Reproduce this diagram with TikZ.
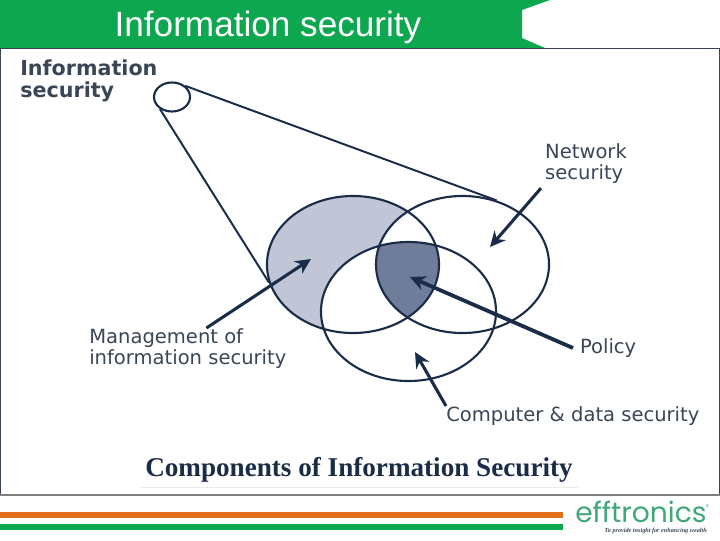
\documentclass[tikz,border=0pt]{standalone}
\usepackage{fontspec}
\setmainfont{DejaVu Sans}
\newfontfamily\titlefont{Liberation Sans}
\newfontfamily\capfont{Liberation Serif}
\newfontfamily\logofont{Poppins}
\usetikzlibrary{arrows.meta,shapes.geometric}
\definecolor{bandgreen}{HTML}{0CA74F}
\definecolor{barorange}{HTML}{E0701A}
\definecolor{logogreen}{HTML}{3FA878}
\definecolor{inkblue}{HTML}{1A2C48}
\definecolor{labelgrey}{HTML}{3A4656}
\definecolor{paleset}{HTML}{C0C6D6}
\definecolor{darkset}{HTML}{6F7C9A}
\tikzset{
  vennring/.style={draw=inkblue,ellipse,line width=1.5pt,inner sep=0pt},
  pointer/.style={draw=inkblue,line width=2.2pt,-{Stealth[length=11pt,width=10.5pt]}},
  partlabel/.style={text=labelgrey,font=\fontsize{13.9}{15.5}\selectfont,align=left,inner sep=0pt},
}
\begin{document}
\begin{tikzpicture}[x=0.025cm,y=-0.025cm]
  \useasboundingbox (0,0) rectangle (720,540);

  % Header band
  \fill[bandgreen] (0,0) -- (550,0) -- (522,10) -- (522,38) -- (545,48) -- (0,48) -- cycle;
  \node[text=white,font=\titlefont\fontsize{25}{27}\selectfont] (headline) at (268,27) {Information security};

  % Frame
  \draw[labelgrey,line width=0.8pt] (0.5,495) -- (0.5,48.5) -- (719.3,48.5) -- (719.3,495);
  \draw[gray,line width=0.8pt] (0,495) -- (720,495);

  % Shaded regions
  \fill[paleset] (353,264.5) ellipse (86 and 68.5);
  \fill[white] (462.5,264.5) ellipse (86.5 and 68.5);
  \fill[white] (408.5,311.5) ellipse (87.5 and 69.5);
  \begin{scope}
    \clip (353,264.5) ellipse (86 and 68.5);
    \clip (462.5,264.5) ellipse (86.5 and 68.5);
    \fill[darkset] (408.5,311.5) ellipse (87.5 and 69.5);
  \end{scope}

  % Rings
  \node[vennring,minimum width=4.3cm,minimum height=3.425cm] (mgmtset) at (353,264.5) {};
  \node[vennring,minimum width=4.325cm,minimum height=3.425cm] (netset) at (462.5,264.5) {};
  \node[vennring,minimum width=4.375cm,minimum height=3.475cm] (compset) at (408.5,311.5) {};
  \node[vennring,minimum width=0.9cm,minimum height=0.725cm] (infospot) at (172,97) {};

  % Zoom lines
  \draw[inkblue,line width=1.4pt] (infospot.40) -- (netset.62);
  \draw[inkblue,line width=1.4pt] (infospot.225) -- (mgmtset.192);

  % Labels
  \node[text=labelgrey,font=\bfseries\fontsize{14.7}{15.5}\selectfont,align=left,anchor=north west,inner sep=0pt] (infolabel) at (20,60) {Information\\security};
  \node[partlabel,anchor=north west,outer sep=3pt] (netlabel) at (541,139) {Network\\security};
  \node[partlabel,anchor=north west] (mgmtlabel) at (89,328) {Management of\\information security};
  \node[partlabel,anchor=west,outer sep=5pt] (policylabel) at (573,348) {Policy};
  \node[partlabel,anchor=north west] (complabel) at (446,406) {Computer \& data security};
  \node[text=inkblue,font=\capfont\bfseries\fontsize{19.3}{21}\selectfont] (caption) at (359,470) {Components of Information Security};
  \draw[black!8,line width=0.5pt] (caption.south west) -- (caption.south east);

  % Arrow tips
  \coordinate (nettip) at (490,247);
  \coordinate (mgmttip) at (311,259);
  \coordinate (policytip) at (410,277);
  \coordinate (comptip) at (415,352);

  % Arrows
  \draw[pointer] (netlabel.south west) -- (nettip);
  \draw[pointer] (mgmtlabel.48) -- (mgmttip);
  \draw[pointer,line width=2.7pt] (policylabel.west) -- (policytip);
  \draw[pointer] (complabel.north west) -- (comptip);

  % Footer bars
  \fill[barorange] (0,512) rectangle (563,518);
  \fill[bandgreen] (0,524) rectangle (563,530);

  % Logo
  \node[text=logogreen,font=\logofont\fontsize{20}{21}\selectfont,anchor=west,inner sep=0pt] (logo) at (575,512) {efftronics};
  \node[text=logogreen,font=\fontsize{3}{3}\selectfont,anchor=west,inner sep=0pt] (logomark) at (705,506) {®};
  \node[text=labelgrey,font=\capfont\itshape\bfseries\fontsize{4.4}{5}\selectfont,anchor=east,inner sep=0pt] (tagline) at (707,531) {To provide insight for enhancing wealth};
\end{tikzpicture}
\end{document}
